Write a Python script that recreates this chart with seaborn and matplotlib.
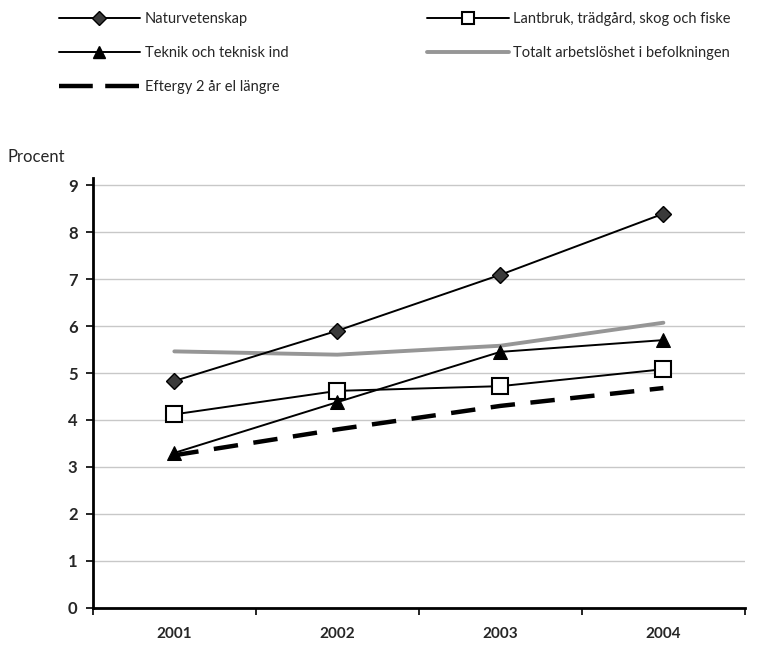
import matplotlib
matplotlib.use("Agg")
import matplotlib.pyplot as plt
import seaborn as sns
import pandas as pd
from matplotlib.lines import Line2D
from matplotlib.ticker import FixedLocator

years = ["2001", "2002", "2003", "2004"]
naturvetenskap = [4.83, 5.90, 7.09, 8.39]
lantbruk = [4.12, 4.62, 4.72, 5.08]
teknik = [3.30, 4.38, 5.45, 5.70]
totalt = [5.46, 5.39, 5.58, 6.07]
eftergy = [3.25, 3.80, 4.30, 4.68]
yticks = [0, 1, 2, 3, 4, 5, 6, 7, 8, 9]

lab_nat = "Naturvetenskap"
lab_lant = "Lantbruk, trädgård, skog och fiske"
lab_tek = "Teknik och teknisk ind"
lab_tot = "Totalt arbetslöshet i befolkningen"
lab_eft = "Eftergy 2 år el längre"

sns.set_theme(style="white")
plt.rcParams["font.family"] = ["Lato", "DejaVu Sans"]

fig = plt.figure(figsize=(7.8, 6.56), dpi=100)
ax = fig.add_axes([0.119, 0.0732, 0.836, 0.6555])

def df_of(vals):
    return pd.DataFrame({"year": years, "v": vals})

tot_color = "#969696"
sns.lineplot(data=df_of(totalt), x="year", y="v", ax=ax, color=tot_color, lw=2.8, zorder=2)
sns.lineplot(data=df_of(eftergy), x="year", y="v", ax=ax, color="black", lw=3.2,
             dashes=False, zorder=3).lines[-1].set_dashes((5.5, 3.5))
sns.lineplot(data=df_of(lantbruk), x="year", y="v", ax=ax, color="black", lw=1.4,
             marker="s", markersize=11, markerfacecolor="white", markeredgecolor="black",
             markeredgewidth=1.5, zorder=4)
sns.lineplot(data=df_of(teknik), x="year", y="v", ax=ax, color="black", lw=1.4,
             marker="^", markersize=10, markerfacecolor="black", markeredgecolor="black", zorder=5)
sns.lineplot(data=df_of(naturvetenskap), x="year", y="v", ax=ax, color="black", lw=1.4,
             marker="D", markersize=8, markerfacecolor="#3a3a3a", markeredgecolor="black",
             markeredgewidth=1.0, zorder=6)

ax.set_xlim(-0.5, 3.5)
ax.set_ylim(0, 9.15)
ax.set_yticks(yticks)
ax.set_yticklabels([str(t) for t in yticks], fontsize=12, fontweight="bold")
ax.set_xticks(range(len(years)))
ax.set_xticklabels(years, fontsize=11, fontweight="bold")
ax.xaxis.set_minor_locator(FixedLocator([-0.5, 0.5, 1.5, 2.5, 3.5]))
ax.tick_params(axis="x", which="major", length=0, pad=14)
ax.tick_params(axis="x", which="minor", length=5, width=1.2, color="black", direction="out", bottom=True)
ax.tick_params(axis="y", length=5, width=1.2, color="black", direction="out", left=True, pad=6)
ax.set_xlabel("")
ax.set_ylabel("")
ax.grid(axis="y", color="#c8c8c8", lw=1.0)
ax.set_axisbelow(True)
for s in ["top", "right"]:
    ax.spines[s].set_visible(False)
for s in ["left", "bottom"]:
    ax.spines[s].set_color("black")
    ax.spines[s].set_linewidth(2.0)

fig.text(0.010, 0.760, "Procent", fontsize=12, ha="left", va="center")

h_nat = Line2D([], [], color="black", lw=1.4, marker="D", markersize=7,
               markerfacecolor="#3a3a3a", markeredgecolor="black")
h_tek = Line2D([], [], color="black", lw=1.4, marker="^", markersize=9, markerfacecolor="black")
h_eft = Line2D([], [], color="black", lw=3.2, dashes=(7.6, 2.8))
h_lant = Line2D([], [], color="black", lw=1.4, marker="s", markersize=9,
                markerfacecolor="white", markeredgecolor="black", markeredgewidth=1.5)
h_tot = Line2D([], [], color=tot_color, lw=2.8)

common = dict(frameon=False, fontsize=10.5, handlelength=5.6, handletextpad=0.3,
              labelspacing=1.35, borderaxespad=0, borderpad=0)
fig.legend([h_nat, h_tek, h_eft], [lab_nat, lab_tek, lab_eft], loc="upper left",
           bbox_to_anchor=(0.075, 0.981), **common)
fig.legend([h_lant, h_tot], [lab_lant, lab_tot], loc="upper left",
           bbox_to_anchor=(0.548, 0.981), **common)

fig.savefig("out.png", dpi=100, facecolor="white")
